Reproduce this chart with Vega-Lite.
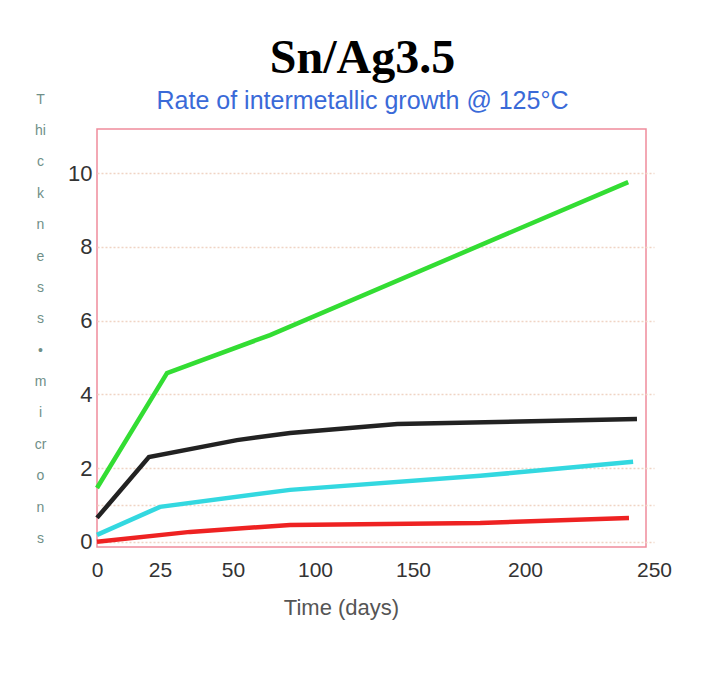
{
  "$schema": "https://vega.github.io/schema/vega-lite/v6.json",
  "width": 549,
  "height": 418,
  "autosize": {"type": "none"},
  "padding": {"left": 97, "top": 129, "right": 60, "bottom": 128},
  "background": "white",
  "title": {
    "text": "Sn/Ag3.5",
    "subtitle": "Rate of intermetallic growth @ 125°C",
    "anchor": "middle",
    "dx": -9,
    "font": "Liberation Serif",
    "fontSize": 48,
    "fontWeight": "bold",
    "color": "#000000",
    "subtitleFont": "Liberation Sans",
    "subtitleFontSize": 25,
    "subtitleColor": "#3a6ad8",
    "subtitlePadding": 6,
    "offset": -22
  },
  "config": {
    "view": {"stroke": "#f08c9c", "strokeWidth": 1.5},
    "axis": {"domain": false, "ticks": false}
  },
  "data": {
    "values": [
      {"series": "S1", "day": 0, "thickness": 1.46},
      {"series": "S1", "day": 27.4, "thickness": 4.58},
      {"series": "S1", "day": 72.6, "thickness": 5.61},
      {"series": "S1", "day": 240, "thickness": 9.76},
      {"series": "S2", "day": 0, "thickness": 0.65},
      {"series": "S2", "day": 20.6, "thickness": 2.3},
      {"series": "S2", "day": 52.4, "thickness": 2.76},
      {"series": "S2", "day": 84.8, "thickness": 2.95},
      {"series": "S2", "day": 142, "thickness": 3.2},
      {"series": "S2", "day": 243.4, "thickness": 3.33},
      {"series": "S3", "day": 0, "thickness": 0.19},
      {"series": "S3", "day": 25, "thickness": 0.95},
      {"series": "S3", "day": 84.8, "thickness": 1.41},
      {"series": "S3", "day": 180, "thickness": 1.79},
      {"series": "S3", "day": 241.9, "thickness": 2.17},
      {"series": "S4", "day": 0, "thickness": 0.0},
      {"series": "S4", "day": 35.3, "thickness": 0.27},
      {"series": "S4", "day": 84.8, "thickness": 0.46},
      {"series": "S4", "day": 180, "thickness": 0.51},
      {"series": "S4", "day": 240.3, "thickness": 0.65}
    ]
  },
  "mark": {"type": "line", "strokeWidth": 4.5},
  "encoding": {
    "x": {
      "field": "day",
      "type": "quantitative",
      "scale": {
        "domain": [0, 25, 50, 100, 150, 200, 250],
        "range": [0, 63, 136, 218, 316, 428, 557],
        "zero": false,
        "nice": false
      },
      "axis": {
        "values": [0, 25, 50, 100, 150, 200, 250],
        "grid": false,
        "labelFont": "Liberation Sans",
        "labelFontSize": 21,
        "labelColor": "#333333",
        "labelPadding": 12,
        "labelOverlap": false,
        "labelFlush": false,
        "title": "Time (days)",
        "titleFont": "Liberation Sans",
        "titleFontSize": 22,
        "titleFontWeight": "normal",
        "titleColor": "#555555",
        "titleX": 244,
        "titleY": 60,
        "titleBaseline": "middle"
      }
    },
    "y": {
      "field": "thickness",
      "type": "quantitative",
      "scale": {"domain": [-0.14, 11.2], "nice": false, "zero": false},
      "axis": {
        "values": [0, 1, 2, 4, 6, 8, 10],
        "labelExpr": "datum.value == 1 ? '' : datum.label",
        "grid": true,
        "gridColor": "#f0d4c4",
        "gridDash": [2, 2],
        "gridWidth": 1.5,
        "labelFont": "Liberation Sans",
        "labelFontSize": 22,
        "labelColor": "#333333",
        "labelPadding": 5,
        "title": ["T", "hi", "c", "k", "n", "e", "s", "s", "•", "m", "i", "cr", "o", "n", "s"],
        "titleAngle": 0,
        "titleFont": "Liberation Sans",
        "titleFontSize": 14,
        "titleFontWeight": "normal",
        "titleColor": "#6f8f88",
        "titleLineHeight": 31.4,
        "titleAlign": "center",
        "titleBaseline": "top",
        "titleX": -57,
        "titleY": -37
      }
    },
    "color": {
      "field": "series",
      "type": "nominal",
      "scale": {
        "domain": ["S1", "S2", "S3", "S4"],
        "range": ["#33dd33", "#222222", "#33d8e0", "#ee2222"]
      },
      "legend": null
    }
  }
}
